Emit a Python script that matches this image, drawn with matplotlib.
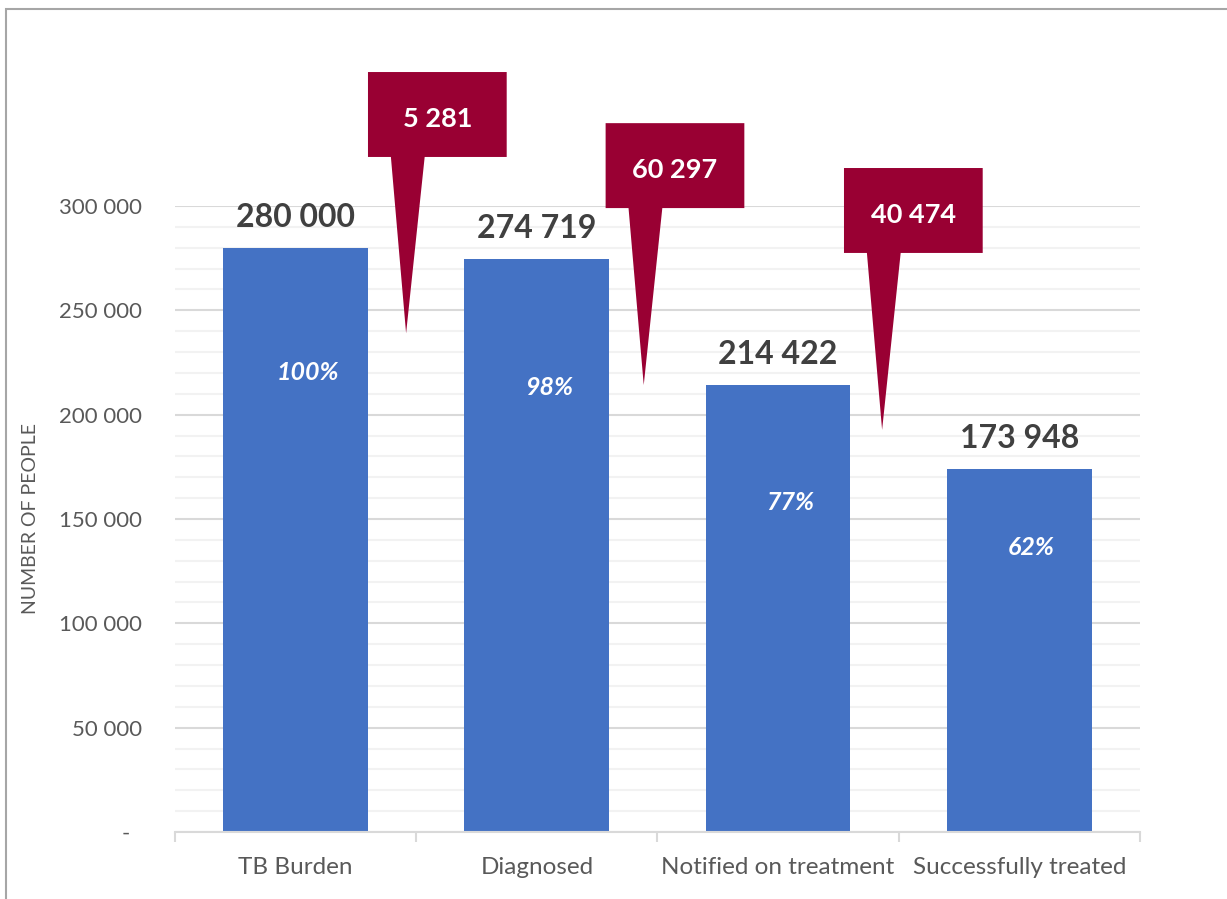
import matplotlib.pyplot as plt
from matplotlib.patches import Polygon, Rectangle
from matplotlib.ticker import FuncFormatter, MultipleLocator, FixedLocator

plt.rcParams['font.family'] = ['Lato', 'DejaVu Sans']

categories = ['TB Burden', 'Diagnosed', 'Notified on treatment', 'Successfully treated']
people = [280000, 274719, 214422, 173948]
pct_labels = ['100%', '98%', '77%', '62%']

# layout only: where the % labels sit (fraction of bar height)
pct_pos = [0.786, 0.775, 0.737, 0.785]
# callout boxes: (left offset from bar centre, box bottom, pointer tip y)
callout_layout = [(0.30, 323500, 239000), (0.285, 299000, 214200), (0.273, 277500, 192700)]

bar_color = '#4472C4'
callout_color = '#990033'
label_dark = '#404040'
axis_gray = '#595959'


def fmt(v):
    return f'{int(v):,}'.replace(',', ' ')


def ytick_fmt(v, pos):
    if v == 0:
        return '-  '
    return fmt(v)


fig = plt.figure(figsize=(12.27, 8.99), dpi=100)
ax = fig.add_axes([0.1426, 0.07453, 0.7865, 0.69633])

x = list(range(len(categories)))
ax.bar(x, people, width=0.6, color=bar_color, zorder=3)

ax.set_xlim(-0.5, 3.5)
ax.set_ylim(0, 300000)

ax.yaxis.set_major_locator(MultipleLocator(50000))
ax.yaxis.set_minor_locator(MultipleLocator(10000))
ax.yaxis.set_major_formatter(FuncFormatter(ytick_fmt))
ax.grid(which='major', axis='y', color='#d9d9d9', linewidth=1.5, zorder=0)
ax.grid(which='minor', axis='y', color='#f2f2f2', linewidth=1.5, zorder=0)
ax.tick_params(axis='y', which='both', length=0, pad=24, labelsize=16, labelcolor=axis_gray)

ax.set_xticks(x)
ax.set_xticklabels(categories)
ax.xaxis.set_minor_locator(FixedLocator([-0.5, 0.5, 1.5, 2.5, 3.5]))
ax.tick_params(axis='x', which='major', length=0, pad=18, labelsize=17.5, labelcolor=axis_gray)
ax.tick_params(axis='x', which='minor', length=7, width=1.5, color='#d9d9d9')

for s in ['top', 'right', 'left']:
    ax.spines[s].set_visible(False)
ax.spines['bottom'].set_color('#d9d9d9')
ax.spines['bottom'].set_linewidth(1.5)
ax.spines['bottom'].set_zorder(4)

ax.set_ylabel('NUMBER OF PEOPLE', fontsize=14, color=axis_gray)
ax.yaxis.set_label_coords(-0.141, 0.5)

# value labels above the bars
for i, v in enumerate(people):
    ax.annotate(fmt(v), (i, v), xytext=(0, 15), textcoords='offset points',
                ha='center', va='baseline', fontsize=23, fontweight='bold',
                color=label_dark, zorder=5)

# percentages inside the bars
for i, (v, p) in enumerate(zip(people, pct_labels)):
    ax.text(i + 0.05, v * pct_pos[i], p, ha='center', va='center', fontsize=18,
            fontweight='bold', fontstyle='italic', color='white', zorder=5)

# callouts showing the drop between stages
box_w = 0.575
box_h = 40700
for i, (dx, yb, tip) in enumerate(callout_layout):
    drop = people[i] - people[i + 1]
    left = i + dx
    right = left + box_w
    bl = left + 0.095
    br = left + 0.235
    tx = left + 0.158
    pts = [(left, yb + box_h), (right, yb + box_h), (right, yb), (br, yb),
           (tx, tip), (bl, yb), (left, yb)]
    ax.add_patch(Polygon(pts, closed=True, facecolor=callout_color,
                         edgecolor='none', clip_on=False, zorder=6))
    ax.text(left + box_w / 2, yb + box_h * 0.45, fmt(drop), ha='center', va='center',
            fontsize=19.5, fontweight='bold', color='white', zorder=7, clip_on=False)

# chart frame
fig.patches.append(Rectangle((6 / 1227, -0.1), 1.2, 1.1 - 9 / 899, transform=fig.transFigure,
                             fill=False, edgecolor='#a6a6a6', linewidth=1.5))

fig.savefig('out.png', dpi=100)
